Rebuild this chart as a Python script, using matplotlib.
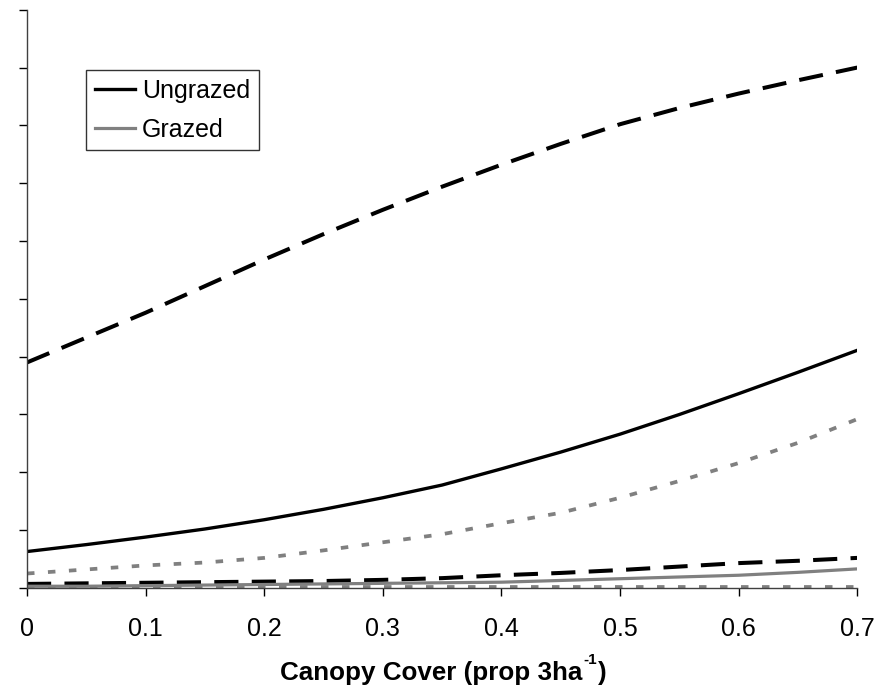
import matplotlib
matplotlib.use("Agg")
import matplotlib.pyplot as plt
from matplotlib.lines import Line2D

plt.rcParams['font.family'] = ['Liberation Sans', 'DejaVu Sans']

canopy = [0.0, 0.05, 0.1, 0.15, 0.2, 0.25, 0.3, 0.35, 0.4, 0.45, 0.5, 0.55, 0.6, 0.65, 0.7]

# Ungrazed: fitted mean with upper / lower confidence limits
ungrazed_mean = [0.63, 0.75, 0.88, 1.02, 1.18, 1.36, 1.56, 1.78, 2.06, 2.35, 2.66, 3.00, 3.36, 3.73, 4.11]
ungrazed_upper = [3.90, 4.33, 4.76, 5.22, 5.68, 6.12, 6.54, 6.94, 7.32, 7.68, 8.02, 8.30, 8.55, 8.78, 9.00]
ungrazed_lower = [0.07, 0.08, 0.09, 0.10, 0.11, 0.12, 0.14, 0.17, 0.22, 0.26, 0.31, 0.37, 0.43, 0.47, 0.52]

# Grazed: fitted mean with upper / lower confidence limits
grazed_mean = [0.03, 0.03, 0.04, 0.05, 0.06, 0.07, 0.08, 0.09, 0.10, 0.13, 0.16, 0.19, 0.22, 0.27, 0.33]
grazed_upper = [0.25, 0.32, 0.39, 0.44, 0.52, 0.65, 0.79, 0.93, 1.12, 1.30, 1.56, 1.85, 2.16, 2.51, 2.92]
grazed_lower = [0.02, 0.02, 0.02, 0.02, 0.02, 0.02, 0.02, 0.02, 0.02, 0.02, 0.02, 0.02, 0.02, 0.02, 0.02]

x_ticks = [0, 0.1, 0.2, 0.3, 0.4, 0.5, 0.6, 0.7]
x_tick_labels = ['0', '0.1', '0.2', '0.3', '0.4', '0.5', '0.6', '0.7']
legend_labels = ['Ungrazed', 'Grazed']

BLACK = '#000000'
GREY = '#808080'

fig = plt.figure(figsize=(8.88, 6.95), dpi=100)
ax = fig.add_axes([0.0304, 0.154, 0.935, 0.832])

ax.plot(canopy, ungrazed_upper, color=BLACK, lw=2.9, dashes=(6, 3.3))
ax.plot(canopy, ungrazed_lower, color=BLACK, lw=2.9, dashes=(6, 3.3))
ax.plot(canopy, grazed_upper, color=GREY, lw=2.7, dashes=(2.0, 3.6))
ax.plot(canopy, grazed_lower, color=GREY, lw=2.7, dashes=(2.0, 3.6))
ax.plot(canopy, grazed_mean, color=GREY, lw=2.3)
ax.plot(canopy, ungrazed_mean, color=BLACK, lw=2.4)

ax.set_xlim(0, 0.7)
ax.set_ylim(0, 10)
ax.set_xticks(x_ticks)
ax.set_xticklabels(x_tick_labels, fontsize=18)
ax.set_yticks(range(0, 11))
ax.set_yticklabels([])
ax.tick_params(axis='x', direction='out', length=6, width=1, pad=15)
ax.tick_params(axis='y', direction='out', length=6, width=1)

for side in ('top', 'right'):
    ax.spines[side].set_visible(False)
for side in ('left', 'bottom'):
    ax.spines[side].set_linewidth(1)
    ax.spines[side].set_color('#404040')

# Axis title with a raised "-1" exponent
t1 = ax.text(0.305, -0.159, 'Canopy Cover (prop 3ha', transform=ax.transAxes,
             fontsize=18.7, fontweight='bold', ha='left', va='baseline', clip_on=False)
t2 = ax.annotate('-1', xy=(1, 0), xycoords=t1, xytext=(0.5, 13), textcoords='offset points',
                 fontsize=11, fontweight='bold', ha='left', va='bottom')
t3 = ax.annotate(')', xy=(1, 0), xycoords=(t2, t1), xytext=(0.5, 0), textcoords='offset points',
                 fontsize=18.7, fontweight='bold', ha='left', va='bottom')

handles = [Line2D([], [], color=BLACK, lw=2.4), Line2D([], [], color=GREY, lw=2.3)]
leg = ax.legend(handles, legend_labels, loc='upper left', bbox_to_anchor=(0.071, 0.896),
                borderaxespad=0, fontsize=18, frameon=True, fancybox=False,
                handlelength=1.6, handletextpad=0.28, borderpad=0.35, labelspacing=0.6)
leg.get_frame().set_edgecolor('black')
leg.get_frame().set_linewidth(1)

fig.savefig('out.png', dpi=100)
